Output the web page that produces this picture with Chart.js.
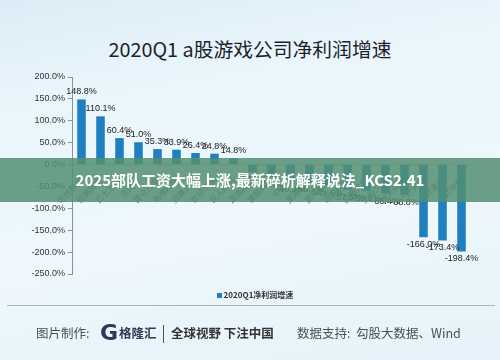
<!DOCTYPE html>
<html>
<head>
<meta charset="utf-8">
<script src="https://cdn.jsdelivr.net/npm/chart.js@4.4.1/dist/chart.umd.min.js"></script>
<style>
  html, body { margin: 0; padding: 0; }
  body {
    width: 500px; height: 360px; position: relative; overflow: hidden;
    font-family: "Noto Sans CJK SC", "Noto Sans", sans-serif;
    background: linear-gradient(170deg, #dcecf6 0%, #eaf6fc 25%, #eef8fd 60%, #e6f2f9 100%);
  }
  #chart { position: absolute; left: 0; top: 0; }
  .titulo {
    position: absolute; left: 0; width: 500px; top: 34px;
    text-align: center; font-size: 19.8px; color: #1c1f2b;
  }
  .legenda {
    position: absolute; left: 0; width: 510px; top: 289px;
    text-align: center; font-size: 8px; color: #333; font-weight: bold;
  }
  .legenda i {
    display: inline-block; width: 5px; height: 5px; background: #1f7fc1;
    margin-right: 2px; vertical-align: 0px;
  }
  .linha { position: absolute; left: 7px; width: 488px; top: 305px; height: 1px; background: #a9b4bf; }
  .rodape { position: absolute; top: 323px; font-size: 12.5px; color: #4a4f58; white-space: nowrap; }
  .logo-g {
    position: absolute; left: 100px; top: 320px; font-size: 22px; font-weight: 900;
    color: #2c3a58; font-family: "DejaVu Sans", sans-serif;
  }
  .logo-txt { position: absolute; left: 119px; top: 323px; font-size: 12.5px; font-weight: bold; color: #2c3a58; }
  .barra { position: absolute; left: 163px; top: 325px; width: 1px; height: 18px; background: #555; }
  .faixa {
    position: absolute; left: 0; top: 158px; width: 500px; height: 44px;
    background: rgba(82, 142, 114, 0.85);
    color: #fff; font-weight: bold; font-size: 15px; text-align: center; line-height: 44px;
  }
</style>
</head>
<body>
<div class="titulo">2020Q1 a股游戏公司净利润增速</div>
<canvas id="chart" width="500" height="360"></canvas>
<div class="legenda"><i></i>2020Q1净利润增速</div>
<div class="linha"></div>
<div class="rodape" style="left:36px">图片制作:</div>
<div class="logo-g">G</div>
<div class="logo-txt">格隆汇</div>
<div class="barra"></div>
<div class="rodape" style="left:171px;font-weight:bold;color:#333">全球视野 下注中国</div>
<div class="rodape" style="left:297px">数据支持:&nbsp; 勾股大数据、Wind</div>
<div class="faixa">2025部队工资大幅上涨,最新碎析解释说法_KCS2.41</div>

<script>
// Dados do gráfico
const empresas = [
    '北纬科技', '恺英网络', '三七互娱', '吉比特', '昆仑万维', '电魂网络', '完美世界',
    '世纪华通', '巨人网络', '游族网络', '掌趣科技', '中青宝', '宝通科技', '星辉娱乐',
    '冰川网络', '凯撒文化', '天舟文化', '盛天网络', '*ST天娱', 'ST游久', '*ST中南'
];
const crescimento = [
    148.8, 110.1, 60.4, 51.0, 35.3, 33.9, 26.4, 24.8, 14.8,
    -17.7, -28.2, -40.2, -40.7, -49.6, -57.5, -59.5, -66.4, -68.8,
    -166.0, -173.4, -198.4
];
const ticksY = [200, 150, 100, 50, 0, -50, -100, -150, -200, -250];

const corBarra = '#1f7fc1';

// Plugin para rótulos de valor
const rotulosValor = {
    id: 'rotulosValor',
    afterDatasetsDraw(chart) {
        const ctx = chart.ctx;
        const meta = chart.getDatasetMeta(0);
        ctx.save();
        ctx.font = '9px "Liberation Sans", Arial, sans-serif';
        ctx.fillStyle = '#222';
        ctx.textAlign = 'center';
        meta.data.forEach((barra, i) => {
            const v = crescimento[i];
            const texto = v.toFixed(1) + '%';
            if (v >= 0) {
                ctx.textBaseline = 'bottom';
                ctx.fillText(texto, barra.x, barra.y - 3);
            } else {
                ctx.textBaseline = 'top';
                ctx.fillText(texto, barra.x, barra.y + 3);
            }
        });
        ctx.restore();
    }
};

new Chart(document.getElementById('chart'), {
    type: 'bar',
    data: {
        labels: empresas,
        datasets: [{
            label: '2020Q1净利润增速',
            data: crescimento,
            backgroundColor: corBarra,
            categoryPercentage: 1,
            barPercentage: 0.45
        }]
    },
    options: {
        responsive: false,
        devicePixelRatio: 1,
        animation: false,
        layout: { padding: { top: 77, bottom: 86, left: 30, right: 29 } },
        scales: {
            x: {
                position: { y: 0 },
                grid: { display: false },
                border: { display: true, color: '#b8c0c8' },
                ticks: {
                    autoSkip: false,
                    minRotation: 45,
                    maxRotation: 45,
                    color: '#555',
                    font: { size: 8, family: '"Noto Sans CJK SC", sans-serif' }
                }
            },
            y: {
                min: -250,
                max: 200,
                afterBuildTicks(scale) {
                    scale.ticks = ticksY.map(v => ({ value: v }));
                },
                afterFit(scale) { scale.width = 42; },
                grid: { drawOnChartArea: false, tickLength: 4, color: '#8a939c' },
                border: { color: '#8a939c' },
                ticks: {
                    color: '#333',
                    padding: 3,
                    font: { size: 9, family: '"Liberation Sans", Arial, sans-serif' },
                    callback: v => v.toFixed(1) + '%'
                }
            }
        },
        plugins: {
            legend: { display: false },
            tooltip: { enabled: false }
        }
    },
    plugins: [rotulosValor]
});
</script>
</body>
</html>
